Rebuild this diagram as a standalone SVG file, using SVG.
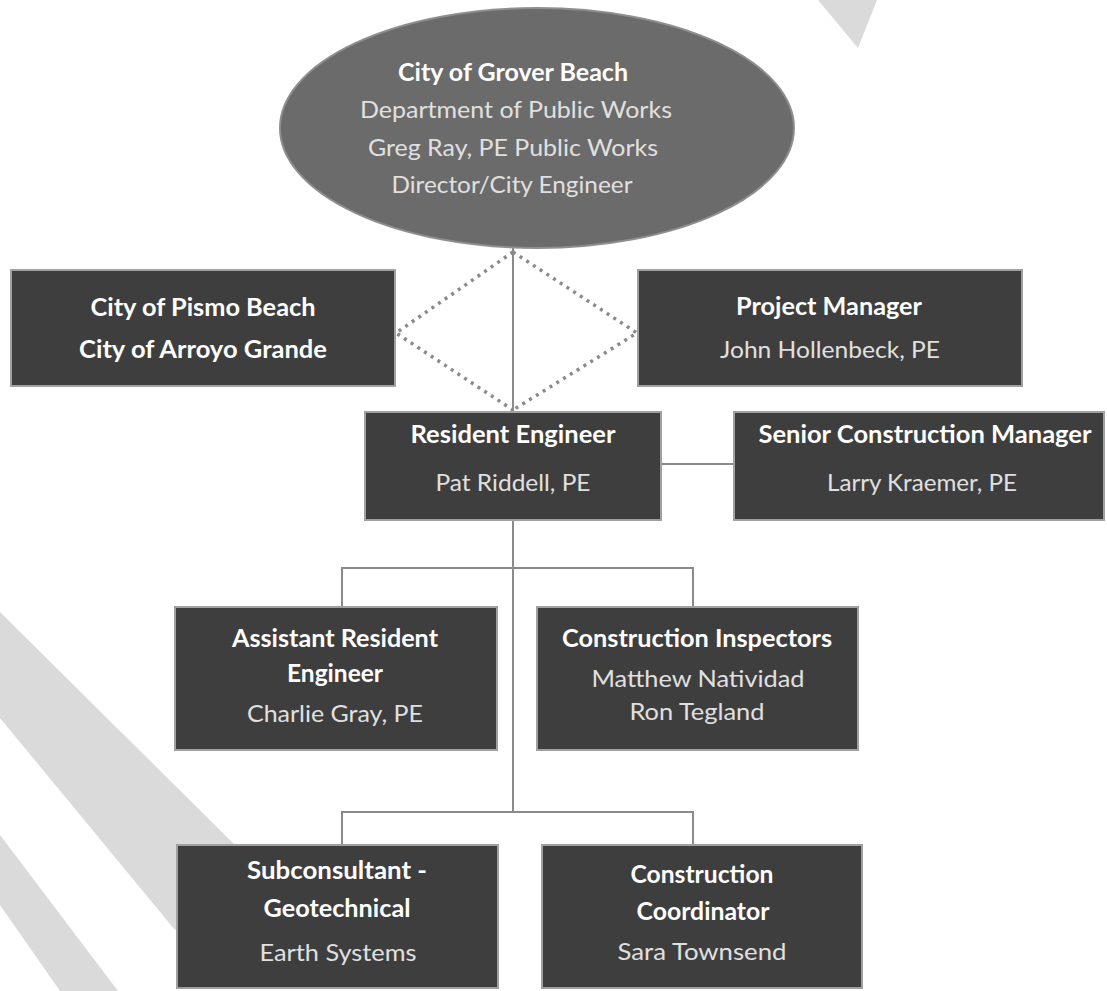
<svg xmlns="http://www.w3.org/2000/svg" width="1107" height="991" viewBox="0 0 1107 991">
<style>
.bg{fill:#dadada}
.oval{fill:#6b6b6b;stroke:#8e8e8e;stroke-width:2}
.box{fill:#3e3e3e;stroke:#a0a0a0;stroke-width:2}
.t{font-family:Lato,"Liberation Sans",sans-serif;font-size:24px;text-anchor:middle}
.b{font-weight:bold;fill:#ffffff}
.r{fill:#e0e0e0}
.ln{stroke:#8a8a8a;stroke-width:2;fill:none}
.dot{stroke:#8a8a8a;stroke-width:3.5;stroke-dasharray:3 5;fill:none}
</style>
<rect width="1107" height="991" fill="#ffffff"/>
<g id="background">
<polygon class="bg" points="0,612 240,850 175,930 0,718"/>
<polygon class="bg" points="0,835 118,991 60,991 0,905"/>
<polygon class="bg" points="818,0 877,0 858,48"/>
</g>
<g id="connectors">
<line class="ln" x1="513" y1="246" x2="513" y2="412"/>
<line class="ln" x1="513" y1="520" x2="513" y2="812"/>
<line class="ln" x1="661" y1="464" x2="734" y2="464"/>
<polyline class="ln" points="342,607 342,568 693,568 693,607"/>
<polyline class="ln" points="342,845 342,812 693,812 693,845"/>
<polyline class="dot" points="513,252 396,333 513,410"/>
<polyline class="dot" points="513,252 637,333 513,410"/>
</g>
<g id="city-grover-beach">
<ellipse class="oval" cx="537" cy="128" rx="257" ry="120"/>
<text class="t b" x="513" y="81" textLength="230" lengthAdjust="spacingAndGlyphs">City of Grover Beach</text>
<text class="t r" x="516" y="118" textLength="312" lengthAdjust="spacingAndGlyphs">Department of Public Works</text>
<text class="t r" x="513" y="156" textLength="290" lengthAdjust="spacingAndGlyphs">Greg Ray, PE Public Works</text>
<text class="t r" x="512" y="193" textLength="241" lengthAdjust="spacingAndGlyphs">Director/City Engineer</text>
</g>
<g id="pismo-arroyo">
<rect class="box" x="11" y="270" width="384" height="116"/>
<text class="t b" x="203" y="316" textLength="225" lengthAdjust="spacingAndGlyphs">City of Pismo Beach</text>
<text class="t b" x="203" y="358" textLength="248" lengthAdjust="spacingAndGlyphs">City of Arroyo Grande</text>
</g>
<g id="project-manager">
<rect class="box" x="638" y="270" width="384" height="116"/>
<text class="t b" x="829" y="315" textLength="186" lengthAdjust="spacingAndGlyphs">Project Manager</text>
<text class="t r" x="830" y="358" textLength="220" lengthAdjust="spacingAndGlyphs">John Hollenbeck, PE</text>
</g>
<g id="resident-engineer">
<rect class="box" x="365" y="412" width="296" height="108"/>
<text class="t b" x="513" y="443" textLength="205" lengthAdjust="spacingAndGlyphs">Resident Engineer</text>
<text class="t r" x="513" y="491" textLength="155" lengthAdjust="spacingAndGlyphs">Pat Riddell, PE</text>
</g>
<g id="senior-construction-manager">
<rect class="box" x="734" y="412" width="370" height="108"/>
<text class="t b" x="925" y="443" textLength="333" lengthAdjust="spacingAndGlyphs">Senior Construction Manager</text>
<text class="t r" x="922" y="491" textLength="190" lengthAdjust="spacingAndGlyphs">Larry Kraemer, PE</text>
</g>
<g id="assistant-resident-engineer">
<rect class="box" x="175" y="607" width="322" height="143"/>
<text class="t b" x="335" y="647" textLength="206" lengthAdjust="spacingAndGlyphs">Assistant Resident</text>
<text class="t b" x="335" y="682" textLength="96" lengthAdjust="spacingAndGlyphs">Engineer</text>
<text class="t r" x="335" y="722" textLength="176" lengthAdjust="spacingAndGlyphs">Charlie Gray, PE</text>
</g>
<g id="construction-inspectors">
<rect class="box" x="537" y="607" width="321" height="143"/>
<text class="t b" x="697" y="647" textLength="270" lengthAdjust="spacingAndGlyphs">Construction Inspectors</text>
<text class="t r" x="698" y="687" textLength="213" lengthAdjust="spacingAndGlyphs">Matthew Natividad</text>
<text class="t r" x="697" y="720" textLength="135" lengthAdjust="spacingAndGlyphs">Ron Tegland</text>
</g>
<g id="subconsultant-geotechnical">
<rect class="box" x="177" y="845" width="321" height="143"/>
<text class="t b" x="337" y="879" textLength="180" lengthAdjust="spacingAndGlyphs">Subconsultant -</text>
<text class="t b" x="337" y="917" textLength="147" lengthAdjust="spacingAndGlyphs">Geotechnical</text>
<text class="t r" x="338" y="961" textLength="157" lengthAdjust="spacingAndGlyphs">Earth Systems</text>
</g>
<g id="construction-coordinator">
<rect class="box" x="542" y="845" width="320" height="143"/>
<text class="t b" x="702" y="883" textLength="143" lengthAdjust="spacingAndGlyphs">Construction</text>
<text class="t b" x="703" y="920" textLength="133" lengthAdjust="spacingAndGlyphs">Coordinator</text>
<text class="t r" x="702" y="960" textLength="169" lengthAdjust="spacingAndGlyphs">Sara Townsend</text>
</g>
</svg>
